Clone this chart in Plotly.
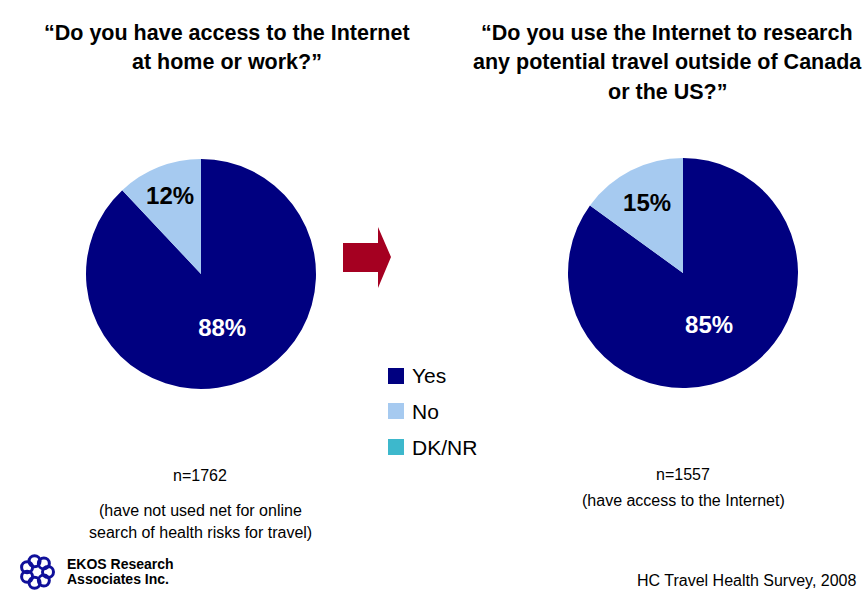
import math
import plotly.graph_objects as go

# Survey responses
categories = ["Yes", "No", "DK/NR"]
access_values = [88, 12, 0]
research_values = [85, 15, 0]
colors = ["#000080", "#A6CAF0", "#3DB8CC"]
text_colors = ["white", "black", "black"]

W, H = 867, 590
FONT = "Liberation Sans, Arial, sans-serif"


def px(x):
    return x / W


def py(y):
    return 1 - y / H


def labels_for(values):
    return [f"{v}%" if v > 0 else "" for v in values]


fig = go.Figure()


def add_pie(values, x0, x1, ytop, ybot):
    fig.add_trace(go.Pie(
        labels=categories, values=values, text=labels_for(values),
        textinfo="text", textposition="inside", insidetextorientation="horizontal",
        sort=False, direction="clockwise", rotation=0,
        marker=dict(colors=colors, line=dict(width=0)),
        textfont=dict(family=FONT, size=24, color=text_colors, weight="bold"),
        domain=dict(x=[px(x0), px(x1)], y=[py(ybot), py(ytop)]),
        hoverinfo="label+percent", showlegend=False,
    ))


add_pie(access_values, 86, 316, 159, 389)
add_pie(research_values, 568, 798, 158, 388)

annotations = []


def add_text(x, y, text, size, bold=False, xanchor="center"):
    annotations.append(dict(
        x=px(x), y=py(y), xref="paper", yref="paper", text=text, showarrow=False,
        xanchor=xanchor, yanchor="middle",
        font=dict(family=FONT, size=size, color="black", weight="bold" if bold else "normal"),
    ))


# Question titles
add_text(227, 33, "“Do you have access to the Internet", 21.5, bold=True)
add_text(227, 62, "at home or work?”", 21.5, bold=True)
add_text(667, 33, "“Do you use the Internet to research", 21.5, bold=True)
add_text(667, 62, "any potential travel outside of Canada", 21.5, bold=True)
add_text(667, 92, "or the US?”", 21.5, bold=True)

# Sample sizes and bases
add_text(200, 475, "n=1762", 16)
add_text(200, 510, "(have not used net for online", 16)
add_text(200, 532, "search of health risks for travel)", 16)
add_text(683, 474, "n=1557", 16)
add_text(683, 500, "(have access to the Internet)", 16)

# Footer
add_text(858, 580, "HC Travel Health Survey, 2008", 16, xanchor="right")
add_text(65, 564, "EKOS Research", 14, bold=True, xanchor="left")
add_text(65, 579, "Associates Inc.", 14, bold=True, xanchor="left")

shapes = []

# Legend: coloured squares with category names
legend_rows = [376, 411, 447]
for cat, col, yc in zip(categories, colors, legend_rows):
    shapes.append(dict(type="rect", xref="paper", yref="paper",
                       x0=px(388), x1=px(404), y0=py(yc + 8), y1=py(yc - 8),
                       fillcolor=col, line=dict(width=0)))
    add_text(410, yc, cat, 21, xanchor="left")

# Arrow between the two questions
arrow_pts = [(343, 243), (378, 243), (378, 227), (391, 257), (378, 288), (378, 272), (343, 272)]
path = "M " + " L ".join(f"{px(x)},{py(y)}" for x, y in arrow_pts) + " Z"
shapes.append(dict(type="path", path=path, xref="paper", yref="paper",
                   fillcolor="#A50021", line=dict(width=0)))

# Logo mark: ring of small loops
cx, cy, rr = 37, 572, 11
for k in range(7):
    a = 2 * math.pi * k / 7
    x0 = cx + rr * math.cos(a)
    y0 = cy + rr * math.sin(a)
    shapes.append(dict(type="circle", xref="paper", yref="paper",
                       x0=px(x0 - 5.5), x1=px(x0 + 5.5), y0=py(y0 + 5.5), y1=py(y0 - 5.5),
                       line=dict(color="#10109a", width=3), fillcolor="rgba(0,0,0,0)"))

fig.update_layout(
    width=W, height=H,
    margin=dict(l=0, r=0, t=0, b=0),
    paper_bgcolor="white", plot_bgcolor="white",
    annotations=annotations, shapes=shapes,
    showlegend=False,
)

fig.write_html("out.html")
